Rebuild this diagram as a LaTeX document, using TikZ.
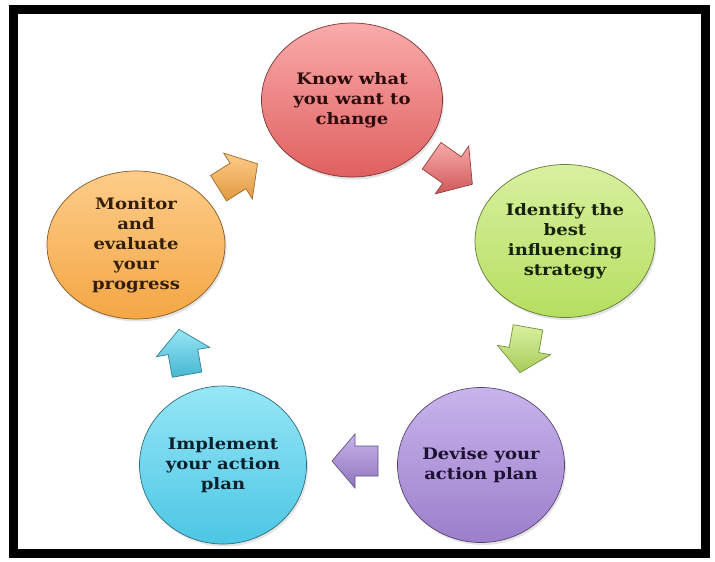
\documentclass[tikz,border=0pt]{standalone}
\usepackage{graphicx}
\usepackage{fontspec}
\newfontfamily\bubfont{DejaVu Serif}
\usetikzlibrary{shapes.geometric,shadows}
\newcommand{\sx}[1]{\scalebox{1.14}[1]{\begin{tabular}{@{}c@{}}#1\end{tabular}}}
\definecolor{redT}{RGB}{250,170,170}
\definecolor{redM}{RGB}{238,120,120}
\definecolor{redB}{RGB}{224,96,96}
\definecolor{greT}{RGB}{216,240,160}
\definecolor{greM}{RGB}{200,234,122}
\definecolor{greB}{RGB}{182,222,96}
\definecolor{purT}{RGB}{200,180,236}
\definecolor{purM}{RGB}{178,152,220}
\definecolor{purB}{RGB}{156,126,202}
\definecolor{cyaT}{RGB}{150,230,246}
\definecolor{cyaM}{RGB}{100,214,240}
\definecolor{cyaB}{RGB}{76,198,228}
\definecolor{oraT}{RGB}{253,204,138}
\definecolor{oraM}{RGB}{250,184,94}
\definecolor{oraB}{RGB}{244,166,68}
\tikzset{
  bubble/.style={ellipse, draw=#1B!55!black, line width=0.7pt, inner sep=0pt,
    top color=#1T, middle color=#1M, bottom color=#1B,
    font=\bubfont\fontsize{15.8}{20}\selectfont\bfseries,
    drop shadow={opacity=0.22, shadow xshift=1.5pt, shadow yshift=-2.5pt}},
  blockarrow/.pic={\path[pic actions] (-23,-15) -- (0,-15) -- (0,-27) -- (23,0) -- (0,27) -- (0,15) -- (-23,15) -- cycle;},
  barrow/.style={draw=#1B!65!black, line width=0.7pt, top color=#1T, bottom color=#1B!92!black}
}
\begin{document}
\begin{tikzpicture}[x=1pt,y=-1pt]
\useasboundingbox (0,0) rectangle (715,562);
\fill[white] (0,0) rectangle (715,562);
\draw[line width=9pt] (13.5,9.5) rectangle (705,553.5);

\node[bubble=red, minimum width=181pt, minimum height=154pt, text={rgb,255:red,45;green,12;blue,12}] (know) at (352,100) {\sx{Know what\\you want to\\change}};
\node[bubble=gre, minimum width=180pt, minimum height=153pt, text={rgb,255:red,22;green,35;blue,12}] (ident) at (565,241) {\sx{Identify the\\best\\influencing\\strategy}};
\node[bubble=pur, minimum width=167pt, minimum height=155pt, text={rgb,255:red,28;green,18;blue,50}] (devise) at (481,465) {\sx{Devise your\\action plan}};
\node[bubble=cya, minimum width=167pt, minimum height=158pt, text={rgb,255:red,10;green,32;blue,45}] (impl) at (223,465) {\sx{Implement\\your action\\plan}};
\node[bubble=ora, minimum width=178pt, minimum height=148pt, text={rgb,255:red,50;green,30;blue,10}] (monitor) at (136,245) {\sx{Monitor\\and\\evaluate\\your\\progress}};

\pic[barrow=red, rotate=-35, scale=1.08] at (452,170) {blockarrow};
\pic[barrow=gre, rotate=-100] at (524,350) {blockarrow};
\pic[barrow=pur, rotate=180] at (355,461) {blockarrow};
\pic[barrow=cya, rotate=100] at (183,352) {blockarrow};
\pic[barrow=ora, rotate=32] at (238,176) {blockarrow};
\end{tikzpicture}
\end{document}
